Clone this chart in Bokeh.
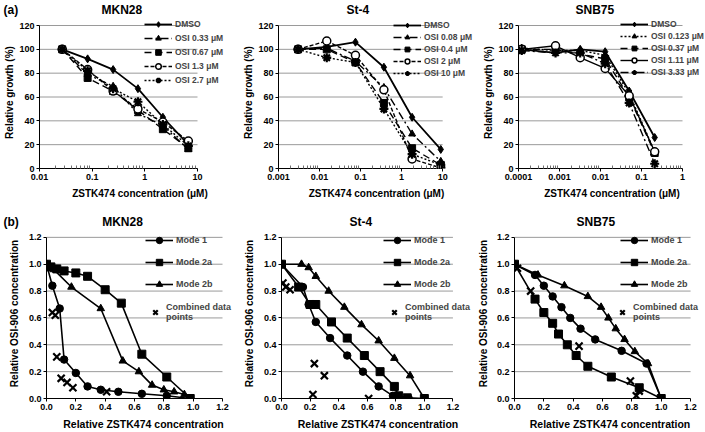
from bokeh.plotting import figure
from bokeh.models import (Range1d, FixedTicker, CustomJSTickFormatter, PrintfTickFormatter,
                          Legend, LegendItem)
from bokeh.layouts import row, column
from bokeh.embed import file_html
from bokeh.resources import INLINE

# ---------------- (a) growth curves ----------------
mkn28_conc = [0.027, 0.082, 0.25, 0.74, 2.2, 6.7]
mkn28_names = ["DMSO", "OSI 0.33 μM", "OSI 0.67 μM", "OSI 1.3 μM", "OSI 2.7 μM"]
mkn28_dmso = [100, 92, 83, 67, 43, 20]
mkn28_osi1 = [100, 79, 69, 46, 36, 16]
mkn28_osi2 = [100, 76, 65, 49, 33, 17]
mkn28_osi3 = [100, 83, 65, 50, 39, 23]
mkn28_osi4 = [100, 82, 67, 56, 37, 19]

st4_conc = [0.003, 0.015, 0.075, 0.37, 1.8, 9.0]
st4_names = ["DMSO", "OSI 0.08 μM", "OSI 0.4 μM", "OSI 2 μM", "OSI 10 μM"]
st4_dmso = [100, 102, 106, 85, 43, 16]
st4_osi1 = [100, 101, 90, 68, 29, 6]
st4_osi2 = [100, 100, 89, 55, 17, 3]
st4_osi3 = [100, 107, 95, 66, 8, 0.5]
st4_osi4 = [100, 93, 89, 50, 12, 3]

snb75_conc = [0.00012, 0.0008, 0.0032, 0.013, 0.05, 0.21]
snb75_names = ["DMSO", "OSI 0.123 μM", "OSI 0.37 μM", "OSI 1.11 μM", "OSI 3.33 μM"]
snb75_dmso = [100, 97, 100, 98, 65, 26]
snb75_osi1 = [101, 99, 99, 95, 63, 14]
snb75_osi2 = [100, 100, 96, 92, 60, 13]
snb75_osi3 = [100, 103, 93, 84, 61, 14]
snb75_osi4 = [99, 97, 97, 88, 55, 4]

a_yticks = [0, 20, 40, 60, 80, 100, 120]

# ---------------- (b) isobolograms ----------------
b_mode_names = ["Mode 1", "Mode 2a", "Mode 2b"]
b_comb_name = "Combined data\npoints"
b_ticks = [0.0, 0.2, 0.4, 0.6, 0.8, 1.0, 1.2]

mkn28_m1_x = [0, 0.04, 0.09, 0.12, 0.2, 0.28, 0.37, 0.49, 0.65, 0.82, 0.98]
mkn28_m1_y = [1.0, 0.84, 0.67, 0.29, 0.19, 0.09, 0.065, 0.05, 0.035, 0.02, 0.0]
mkn28_m2a_x = [0, 0.03, 0.07, 0.12, 0.2, 0.28, 0.4, 0.51, 0.65, 0.82, 0.98]
mkn28_m2a_y = [1.0, 0.98, 0.965, 0.95, 0.935, 0.91, 0.81, 0.71, 0.33, 0.16, 0.0]
mkn28_m2b_x = [0, 0.05, 0.17, 0.37, 0.52, 0.63, 0.72, 0.8, 0.87, 0.94, 0.98]
mkn28_m2b_y = [1.0, 0.96, 0.83, 0.67, 0.28, 0.2, 0.1, 0.065, 0.05, 0.03, 0.0]
mkn28_cx = [0.04, 0.06, 0.07, 0.1, 0.14, 0.18, 0.41]
mkn28_cy = [0.64, 0.62, 0.31, 0.15, 0.12, 0.08, 0.05]

st4_m1_x = [0, 0.15, 0.19, 0.24, 0.34, 0.46, 0.57, 0.68, 0.78, 0.89]
st4_m1_y = [1.0, 0.83, 0.7, 0.57, 0.45, 0.32, 0.2, 0.09, 0.02, 0.0]
st4_m2a_x = [0, 0.12, 0.2, 0.24, 0.35, 0.46, 0.58, 0.69, 0.79, 0.82, 0.88, 1.0]
st4_m2a_y = [1.0, 0.83, 0.7, 0.7, 0.57, 0.45, 0.32, 0.2, 0.09, 0.02, 0.005, 0.0]
st4_m2b_x = [0, 0.14, 0.19, 0.24, 0.33, 0.44, 0.56, 0.68, 0.79, 0.9, 1.0]
st4_m2b_y = [1.0, 1.0, 0.975, 0.91, 0.8, 0.68, 0.55, 0.43, 0.3, 0.17, 0.0]
st4_cx = [0.01, 0.03, 0.06, 0.23, 0.3, 0.22, 0.61]
st4_cy = [0.86, 0.83, 0.81, 0.26, 0.17, 0.03, 0.0]

snb75_m1_x = [0, 0.14, 0.2, 0.26, 0.32, 0.38, 0.45, 0.55, 0.73, 0.9, 1.0]
snb75_m1_y = [1.0, 0.92, 0.84, 0.76, 0.68, 0.6, 0.52, 0.44, 0.355, 0.26, 0.0]
snb75_m2a_x = [0, 0.14, 0.2, 0.26, 0.3, 0.36, 0.42, 0.5, 0.66, 0.85, 1.0]
snb75_m2a_y = [1.0, 0.74, 0.64, 0.56, 0.48, 0.4, 0.32, 0.24, 0.16, 0.08, 0.0]
snb75_m2b_x = [0, 0.16, 0.34, 0.5, 0.59, 0.64, 0.69, 0.75, 0.82, 0.91, 1.0]
snb75_m2b_y = [1.0, 0.92, 0.84, 0.76, 0.68, 0.6, 0.52, 0.44, 0.35, 0.26, 0.0]
snb75_cx = [0.02, 0.11, 0.44, 0.79, 0.85, 0.83]
snb75_cy = [0.97, 0.8, 0.39, 0.13, 0.055, 0.02]

# ---------------- styling ----------------
FONT = "Liberation Sans"
GRID = "#9a9a9a"
DASHDOT = "8 3 2 3"
LONGDASH = "7 4"
SHORTDASH = "4 2"
DOTTED = "2 2"
NB = "\u00a0"

STY_A = [("diamond", "solid"), ("triangle", DASHDOT), ("square", LONGDASH),
         ("circle_open", SHORTDASH), ("asterisk", DOTTED)]
STY_SNB = [("diamond", "solid"), ("triangle", DOTTED), ("square", LONGDASH),
           ("circle_open", "solid"), ("asterisk", DASHDOT)]

# row geometry: total height, top border, bottom border, pixel of top tick
H1, T1, B1, TOPTICK1 = 210, 16, 42, 25
H2, T2, B2, TOPTICK2 = 222, 18, 31, 27


def style_axes(p, xlabel, ylabel, xsize, ystand):
    p.outline_line_color = None
    p.background_fill_color = "white"
    p.xgrid.visible = False
    p.ygrid.visible = False
    for ax in (p.xaxis[0], p.yaxis[0]):
        ax.axis_line_color = "black"
        ax.axis_line_width = 1
        ax.major_tick_line_color = "black"
        ax.major_tick_out = 3
        ax.major_tick_in = 0
        ax.major_label_text_font = FONT
        ax.major_label_text_font_style = "bold"
        ax.major_label_text_font_size = "9px"
        ax.major_label_text_color = "black"
        ax.major_label_standoff = 2
        ax.axis_label_text_font = FONT
        ax.axis_label_text_font_style = "bold"
        ax.axis_label_text_color = "black"
    p.xaxis[0].axis_label = xlabel
    p.yaxis[0].axis_label = ylabel
    p.xaxis[0].axis_label_text_font_size = xsize
    p.yaxis[0].axis_label_text_font_size = "10px"
    p.xaxis[0].axis_label_standoff = 5
    p.yaxis[0].axis_label_standoff = ystand
    p.yaxis[0].minor_tick_line_color = None


def set_title(p, text, offset):
    p.title.text = text
    p.title.align = "left"
    p.title.offset = offset
    p.title.standoff = 0
    p.title.text_font = FONT
    p.title.text_font_style = "bold"
    p.title.text_font_size = "12px"
    p.title.text_color = "black"


def style_legend(lg, size, gw, gh, sp):
    lg.label_text_font = FONT
    lg.label_text_font_style = "bold"
    lg.label_text_font_size = size
    lg.label_text_line_height = 1.0
    lg.glyph_width = gw
    lg.glyph_height = gh
    lg.label_height = min(gh, 12)
    lg.spacing = sp
    lg.padding = 0
    lg.margin = 0
    lg.label_standoff = 3
    lg.background_fill_alpha = 0
    lg.border_line_alpha = 0


def a_panel(W, left, xend_px, xr, major, conc, names, series, styles, title, toff,
            lx, ly, gh):
    dec = (xend_px - left) / (len(major) - 1)
    x_hi = xr[1] * 10 ** ((W - xend_px) / dec)
    y_hi = a_yticks[-1] * (H1 - B1 - T1) / (H1 - B1 - TOPTICK1)
    p = figure(width=W, height=H1, x_axis_type="log", x_range=Range1d(xr[0], x_hi),
               y_range=Range1d(0, y_hi), output_backend="svg", toolbar_location=None,
               min_border_left=left, min_border_right=0,
               min_border_top=T1, min_border_bottom=B1)
    set_title(p, title, toff)
    style_axes(p, "ZSTK474 concentration (μM)", "Relative growth (%)", "10px", 1)
    minor = [k * m for m in major[:-1] for k in range(2, 10)]
    p.xaxis[0].ticker = FixedTicker(ticks=major, minor_ticks=minor)
    p.xaxis[0].formatter = CustomJSTickFormatter(code="return String(tick);")
    p.xaxis[0].bounds = (xr[0], xr[1])
    p.xaxis[0].minor_tick_in = 3
    p.xaxis[0].minor_tick_out = 0
    p.xaxis[0].minor_tick_line_color = "#707070"
    p.yaxis[0].ticker = FixedTicker(ticks=a_yticks)
    p.yaxis[0].bounds = (a_yticks[0], a_yticks[-1])
    gy = a_yticks[1:]
    p.segment(x0=[xr[0]] * len(gy), y0=gy, x1=[xr[1]] * len(gy), y1=gy,
              line_color=GRID, line_width=1)
    items = []
    for name, ys, (mk, dash) in zip(names, series, styles):
        lw = 1.8 if name == "DMSO" else 1.4
        l = p.line(conc, ys, line_color="black", line_width=lw, line_dash=dash)
        if mk == "circle_open":
            s = p.scatter(conc, ys, marker="circle", size=8, fill_color="white",
                          line_color="black", line_width=1.5)
        elif mk == "asterisk":
            s = p.scatter(conc, ys, marker="asterisk", size=9, line_color="black", line_width=2.2)
        elif mk == "diamond":
            s = p.scatter(conc, ys, marker="diamond", size=8, fill_color="black", line_color="black")
        else:
            s = p.scatter(conc, ys, marker=mk, size=7, fill_color="black", line_color="black")
        items.append(LegendItem(label=name, renderers=[l, s]))
    leg = Legend(items=items, location=(lx, ly))
    style_legend(leg, "8.5px", 28, gh, 0)
    p.add_layout(leg)
    return p


def b_panel(W, left, xend_px, m1, m2a, m2b, comb, title, toff, lx, cx, ystand):
    unit = (xend_px - left) / b_ticks[-1]
    x_hi = (W - left) / unit
    y_hi = b_ticks[-1] * (H2 - B2 - T2) / (H2 - B2 - TOPTICK2)
    p = figure(width=W, height=H2, x_range=Range1d(0, x_hi), y_range=Range1d(0, y_hi),
               output_backend="svg", toolbar_location=None,
               min_border_left=left, min_border_right=0,
               min_border_top=T2, min_border_bottom=B2)
    set_title(p, title, toff)
    style_axes(p, "Relative ZSTK474 concentration", "Relative OSI-906 concentration",
               "10.5px", ystand)
    for ax in (p.xaxis[0], p.yaxis[0]):
        ax.ticker = FixedTicker(ticks=b_ticks)
        ax.formatter = PrintfTickFormatter(format="%.1f")
        ax.bounds = (b_ticks[0], b_ticks[-1])
    p.xaxis[0].minor_tick_line_color = None
    gy = b_ticks[1:]
    p.segment(x0=[b_ticks[0]] * len(gy), y0=gy, x1=[b_ticks[-1]] * len(gy), y1=gy,
              line_color=GRID, line_width=1)
    rs = []
    for (xs, ys), mk, sz in zip((m1, m2a, m2b), ("circle", "square", "triangle"), (7.5, 8, 7.5)):
        l = p.line(xs, ys, line_color="black", line_width=1.6)
        s = p.scatter(xs, ys, marker=mk, size=sz, fill_color="black", line_color="black")
        rs.append((l, s))
    c = p.scatter(comb[0], comb[1], marker="x", size=10, line_color="black", line_width=2.2)
    leg = Legend(items=[LegendItem(label=n, renderers=list(r)) for n, r in zip(b_mode_names, rs)],
                 location=(lx, 106))
    style_legend(leg, "9px", 28, 16, 6)
    leg2 = Legend(items=[LegendItem(label=b_comb_name, renderers=[c])], location=(cx, 76))
    style_legend(leg2, "9px", 16, 16, 0)
    p.add_layout(leg)
    p.add_layout(leg2)
    return p


W1, W2, W3 = 240, 234, 231
TAG_GAP = NB * 25

a1 = a_panel(W1, 39, 197, (0.01, 10), [0.01, 0.1, 1, 10], mkn28_conc, mkn28_names,
             [mkn28_dmso, mkn28_osi1, mkn28_osi2, mkn28_osi3, mkn28_osi4], STY_A,
             "(a)" + TAG_GAP + "MKN28", -36, 105, 81, 14)
a2 = a_panel(W2, 37, 202, (0.001, 10), [0.001, 0.01, 0.1, 1, 10], st4_conc, st4_names,
             [st4_dmso, st4_osi1, st4_osi2, st4_osi3, st4_osi4], STY_A,
             "St-4", 68, 115, 89, 12)
a3 = a_panel(W3, 44, 208, (0.0001, 1), [0.0001, 0.001, 0.01, 0.1, 1], snb75_conc, snb75_names,
             [snb75_dmso, snb75_osi1, snb75_osi2, snb75_osi3, snb75_osi4], STY_SNB,
             "SNB75", 57, 102, 90, 12)

b1 = b_panel(W1, 46, 222, (mkn28_m1_x, mkn28_m1_y), (mkn28_m2a_x, mkn28_m2a_y),
             (mkn28_m2b_x, mkn28_m2b_y), (mkn28_cx, mkn28_cy), "(b)" + TAG_GAP + "MKN28",
             -43, 99, 101, 6)
b2 = b_panel(W2, 37, 212, (st4_m1_x, st4_m1_y), (st4_m2a_x, st4_m2a_y),
             (st4_m2b_x, st4_m2b_y), (st4_cx, st4_cy), "St-4", 68, 102, 105, 6)
b3 = b_panel(W3, 39, 216, (snb75_m1_x, snb75_m1_y), (snb75_m2a_x, snb75_m2a_y),
             (snb75_m2b_x, snb75_m2b_y), (snb75_cx, snb75_cy), "SNB75", 62, 106, 100, 5)

layout = column(row(a1, a2, a3), row(b1, b2, b3))
open("out.html", "w").write(file_html(layout, INLINE))
